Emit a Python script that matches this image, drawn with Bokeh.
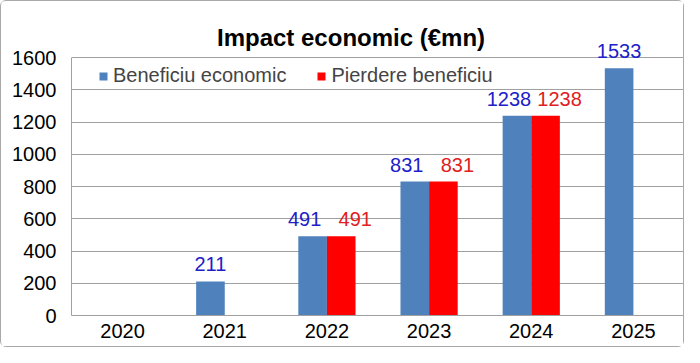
import math
from bokeh.plotting import figure
from bokeh.models import ColumnDataSource, LabelSet, Label, FactorRange, Legend
from bokeh.core.properties import value
from bokeh.transform import dodge
from bokeh.embed import file_html
from bokeh.resources import INLINE

# ---- data ----
years = ["2020", "2021", "2022", "2023", "2024", "2025"]
beneficiu = [float("nan"), 211, 491, 831, 1238, 1533]
pierdere = [float("nan"), float("nan"), 491, 831, 1238, float("nan")]
series_names = ["Beneficiu economic", "Pierdere beneficiu"]
y_ticks = [0, 200, 400, 600, 800, 1000, 1200, 1400, 1600]
title_text = "Impact economic (€mn)"

BLUE = "#4F81BD"
RED = "#FF0000"
BLUE_TXT = "#2020C8"
RED_TXT = "#E02020"
FONT = "Liberation Sans"
FS = "20px"

W, H = 684, 347
LEFT, RIGHT = 70, 1
BOTTOM = 33
FRAME_H = H - BOTTOM
PX_PER_1600 = 258.0
y_top = 1600 * FRAME_H / PX_PER_1600

src = ColumnDataSource(dict(years=years, ben=beneficiu, pier=pierdere))

def label_source(vals, other, shift_pair):
    xs, ys, ts, offs = [], [], [], []
    for yr, v, o in zip(years, vals, other):
        if not math.isnan(v):
            xs.append(yr); ys.append(v); ts.append(str(int(v)))
            offs.append(shift_pair if not math.isnan(o) else 0)
    return ColumnDataSource(dict(x=xs, y=ys, t=ts, off=offs))

p = figure(width=W, height=H, x_range=FactorRange(*years), y_range=(0, y_top),
           output_backend="svg", toolbar_location=None,
           min_border_left=LEFT, min_border_right=RIGHT, min_border_top=0, min_border_bottom=BOTTOM)
p.styles = {"border": "1px solid #A8A8A8", "border-radius": "6px", "box-sizing": "border-box"}
p.outline_line_color = None
p.background_fill_color = "white"
p.border_fill_color = "white"

w = 0.28
rb = p.vbar(x=dodge("years", -w / 2, range=p.x_range), top="ben", width=w, source=src,
            fill_color=BLUE, line_color=None)
rr = p.vbar(x=dodge("years", w / 2, range=p.x_range), top="pier", width=w, source=src,
            fill_color=RED, line_color=None)

lb = LabelSet(x=dodge("x", -w / 2, range=p.x_range), y="y", text="t", x_offset="off",
              source=label_source(beneficiu, pierdere, -8),
              text_align="center", text_baseline="alphabetic", y_offset=10,
              text_color=BLUE_TXT, text_font=value(FONT), text_font_size=FS)
lr = LabelSet(x=dodge("x", w / 2, range=p.x_range), y="y", text="t", x_offset="off",
              source=label_source(pierdere, beneficiu, 14),
              text_align="center", text_baseline="alphabetic", y_offset=10,
              text_color=RED_TXT, text_font=value(FONT), text_font_size=FS)
p.add_layout(lb)
p.add_layout(lr)

# title
p.add_layout(Label(x=2.736, y=1600, y_offset=20, text=title_text, text_align="center",
                   text_baseline="alphabetic", text_font=FONT, text_font_size="24px",
                   text_font_style="bold", text_color="black"))

# axes
p.yaxis.ticker = y_ticks
p.yaxis.bounds = (0, 1600)
p.yaxis.axis_line_color = "#A0A0A0"
p.yaxis.major_tick_line_color = None
p.yaxis.minor_tick_line_color = None
p.yaxis.major_tick_out = 0
p.yaxis.major_tick_in = 0
p.yaxis.major_label_standoff = 15
p.yaxis.major_label_text_font = FONT
p.yaxis.major_label_text_font_size = FS
p.yaxis.major_label_text_color = "black"

p.xaxis.axis_line_color = "#A0A0A0"
p.xaxis.major_tick_line_color = None
p.xaxis.minor_tick_line_color = None
p.xaxis.major_tick_out = 0
p.xaxis.major_tick_in = 0
p.xaxis.major_label_standoff = 8
p.xaxis.major_label_text_font = FONT
p.xaxis.major_label_text_font_size = FS
p.xaxis.major_label_text_color = "black"

p.xgrid.grid_line_color = None
p.ygrid.grid_line_color = "#A0A0A0"
p.ygrid.grid_line_width = 1

legend = Legend(items=[(series_names[0], [rb]), (series_names[1], [rr])],
                orientation="horizontal", location=(27, FRAME_H - 56 - 8 - 22), padding=0, margin=0,
                spacing=30, glyph_width=10, glyph_height=10, label_standoff=5,
                label_text_font=FONT, label_text_font_size=FS,
                border_line_color=None, background_fill_alpha=0)
p.add_layout(legend)

open("out.html", "w").write(file_html(p, INLINE))
